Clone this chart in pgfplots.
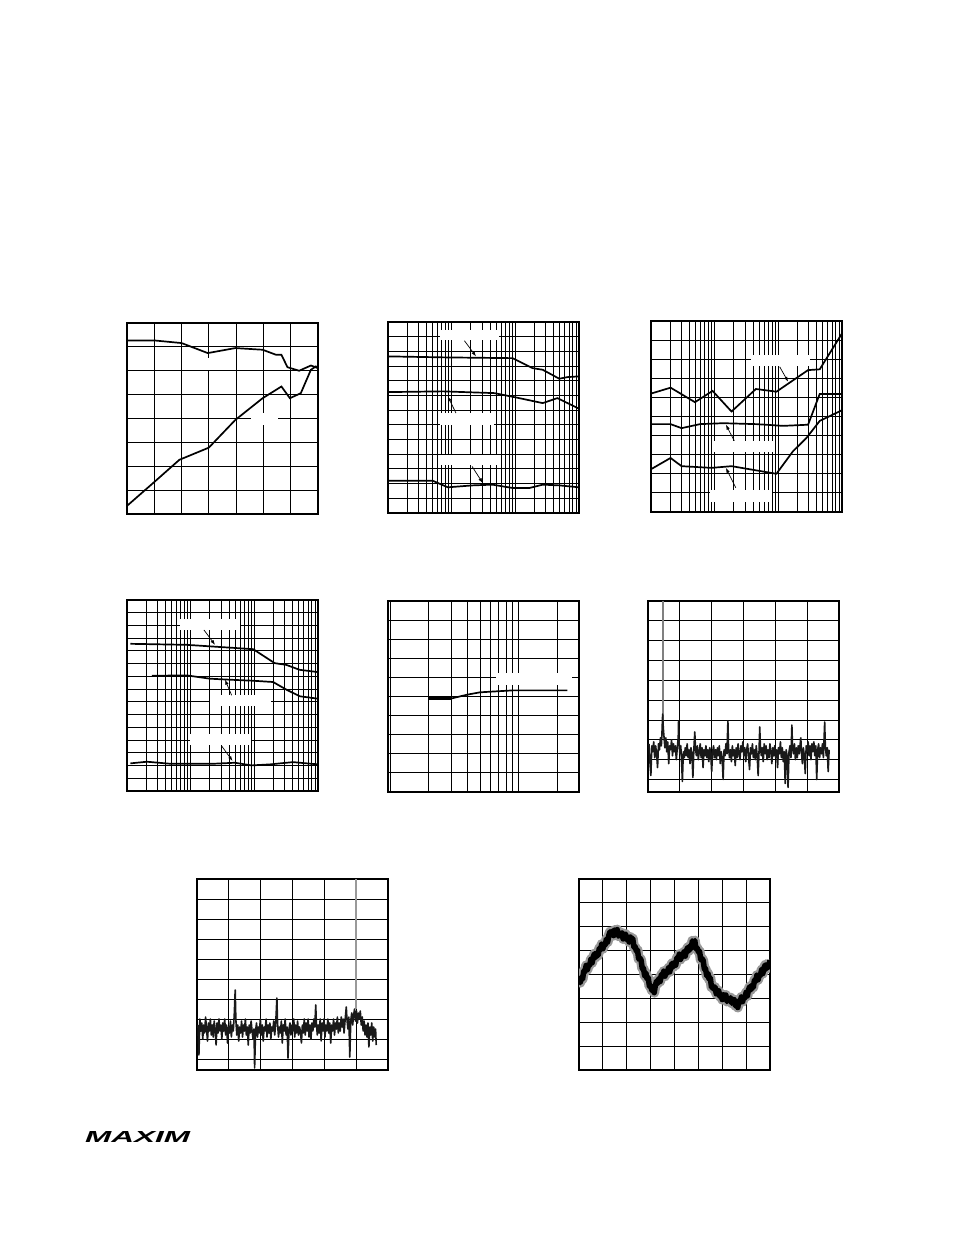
\documentclass[border=0pt]{standalone}
\usepackage{fontspec}
\setmainfont{Liberation Sans}
\usepackage{graphicx}
\usepackage{pgfplots}
\pgfplotsset{compat=1.18}
\usetikzlibrary{arrows.meta}

\pgfplotsset{
  pane/.style={scale only axis, width=191pt, height=191pt, anchor=north west,
    axis line style={line width=1.8pt},
    major grid style={black, line width=1pt},
    minor grid style={black, line width=1pt},
    major tick length=0pt, minor tick length=0pt,
    xticklabels={}, yticklabels={},
  },
  decades/.style={xmin=10, xmax=10000, xtick={10,100,1000,10000},
    minor xtick={20,30,40,50,60,70,80,90,200,300,400,500,600,700,800,900,2000,3000,4000,5000,6000,7000,8000,9000},
    grid=both},
}
\tikzset{
  thk/.style={black, line width=1.7pt, mark=none},
  noise/.style={black!90, line width=1.6pt, line join=round, mark=none},
  mask/.style={fill=white},
  lbl/.style={-{Latex[length=5pt,width=3.5pt]}, line width=0.7pt, black},
}

\begin{document}
\begin{tikzpicture}
\path[use as bounding box] (0pt,0pt) rectangle (954pt,-1235pt);

% --- row 1, left
\begin{axis}[pane, at={(127pt,-323pt)}, xmin=0, xmax=7, ymin=0, ymax=8,
  xtick={0,...,7}, ytick={0,...,8}, grid=major]
\fill[mask] (2.85,6.04) rectangle (3.15,6.53);
\fill[mask] (4.54,3.73) rectangle (5.52,4.22);
\addplot[thk] coordinates {(0,7.27) (1,7.27) (2,7.16) (2.96,6.74) (3.97,6.95) (4.97,6.88)
  (5.46,6.67) (5.66,6.67) (5.88,6.15) (6.31,6.0) (6.74,6.22) (7,6.11)};
\addplot[thk] coordinates {(0,0.34) (0.95,1.29) (1.92,2.27) (3.0,2.78) (3.97,3.94) (4.97,4.85)
  (5.66,5.34) (5.97,4.85) (6.37,5.06) (6.74,6.04) (6.92,6.18) (7,6.1)};
\end{axis}

% --- row 1, middle
\begin{axis}[pane, xmode=log, decades, at={(388pt,-322pt)}, ymin=0, ymax=13, ytick={0,...,13}]
\fill[mask] (rel axis cs:0.270,0.907) rectangle (rel axis cs:0.583,0.959);
\fill[mask] (rel axis cs:0.270,0.462) rectangle (rel axis cs:0.556,0.523);
\fill[mask] (rel axis cs:0.270,0.249) rectangle (rel axis cs:0.583,0.305);
\addplot[thk] coordinates {(10,10.66) (81.8,10.59) (903,10.54) (1862,9.86) (2692,9.75)
  (4898,9.14) (6607,9.25) (10000,9.30)};
\addplot[thk] coordinates {(10,8.23) (72.4,8.28) (468,8.16) (1148,7.82) (2692,7.48)
  (4571,7.82) (10000,7.10)};
\addplot[thk] coordinates {(10,2.20) (50.1,2.20) (87.1,1.75) (214,1.88) (437,1.93) (912,1.70)
  (1660,1.70) (2692,1.93) (4898,1.88) (10000,1.75)};
\draw[lbl] (rel axis cs:0.400,0.902) -- (rel axis cs:0.461,0.820);
\draw[lbl] (rel axis cs:0.356,0.523) -- (rel axis cs:0.313,0.611);
\draw[lbl] (rel axis cs:0.440,0.244) -- (rel axis cs:0.496,0.157);
\end{axis}

% --- row 1, right
\begin{axis}[pane, xmode=log, decades, at={(651pt,-321pt)}, ymin=0, ymax=10, ytick={0,...,10}]
\fill[mask] (rel axis cs:0.526,0.766) rectangle (rel axis cs:0.835,0.821);
\fill[mask] (rel axis cs:0.326,0.314) rectangle (rel axis cs:0.643,0.370);
\fill[mask] (rel axis cs:0.308,0.054) rectangle (rel axis cs:0.636,0.113);
\addplot[thk] coordinates {(10,6.20) (20.3,6.51) (49.0,5.75) (92.7,6.34) (184,5.26) (444,6.44)
  (933,6.30) (2931,7.43) (4467,7.47) (10000,9.35)};
\addplot[thk] coordinates {(10,4.60) (20.3,4.60) (30.2,4.39) (58.6,4.60) (136,4.65) (454,4.60)
  (1189,4.51) (2931,4.57) (4467,6.18) (10000,6.18)};
\addplot[thk] coordinates {(10,2.24) (20.3,2.83) (30.2,2.40) (89.1,2.31) (184,2.40) (933,2.00)
  (1698,3.18) (2754,3.87) (4467,4.77) (10000,5.33)};
\draw[lbl] (rel axis cs:0.674,0.760) -- (rel axis cs:0.718,0.682);
\draw[lbl] (rel axis cs:0.436,0.373) -- (rel axis cs:0.392,0.457);
\draw[lbl] (rel axis cs:0.444,0.127) -- (rel axis cs:0.392,0.231);
\end{axis}

% --- row 2, left
\begin{axis}[pane, xmode=log, decades, at={(127pt,-600pt)}, ymin=0, ymax=15, ytick={0,...,15}]
\fill[mask] (rel axis cs:0.275,0.843) rectangle (rel axis cs:0.591,0.901);
\fill[mask] (rel axis cs:0.434,0.443) rectangle (rel axis cs:0.756,0.505);
\fill[mask] (rel axis cs:0.330,0.240) rectangle (rel axis cs:0.647,0.296);
\addplot[thk] coordinates {(11.3,11.56) (86.9,11.48) (959,11.14) (2089,10.04) (3162,9.91)
  (5129,9.52) (10000,9.34)};
\addplot[thk] coordinates {(24.6,9.05) (86.9,9.08) (201,8.82) (414,8.74) (959,8.66) (1972,8.56)
  (3192,7.96) (5164,7.44) (10000,7.25)};
\addplot[thk] coordinates {(11.3,2.17) (20.6,2.30) (47.6,2.14) (227,2.14) (495,2.22) (904,2.01)
  (1750,2.09) (4055,2.27) (10000,2.09)};
\draw[lbl] (rel axis cs:0.403,0.843) -- (rel axis cs:0.461,0.765);
\draw[lbl] (rel axis cs:0.548,0.501) -- (rel axis cs:0.513,0.583);
\draw[lbl] (rel axis cs:0.496,0.235) -- (rel axis cs:0.553,0.157);
\end{axis}

% --- row 2, middle
\begin{axis}[pane, xmode=log, at={(388pt,-601pt)}, xmin=0.96, xmax=29.5, xtick={1,10},
  minor xtick={2,3,4,5,6,7,8,9,20}, grid=both, ymin=0, ymax=10, ytick={0,...,10}]
\fill[mask] (rel axis cs:0.567,0.560) rectangle (rel axis cs:0.965,0.623);
\addplot[thk, line width=3pt] coordinates {(2,4.90) (3,4.90)};
\addplot[thk] coordinates {(2,4.90) (3,4.90) (4,5.10) (5,5.22) (6.7,5.27) (9,5.32) (24,5.32)};
\end{axis}

% --- row 2, right
\begin{axis}[pane, at={(648pt,-601pt)}, xmin=0, xmax=6, ymin=-9.63, ymax=0,
  xtick={0,...,6}, ytick={-9,...,0}, grid=major]
\addplot[black!50, line width=2.6pt, mark=none] coordinates {(0.47,-6.8) (0.47,0)};
\addplot[noise] coordinates {
(0.03,-7.2) (0.06,-8.1) (0.09,-8.8) (0.12,-7.3) (0.15,-7.6) (0.18,-7.1) (0.21,-7.9) (0.24,-7.3)
(0.27,-7.7) (0.30,-8.4) (0.33,-7.2) (0.36,-7.5) (0.39,-6.9) (0.42,-7.3) (0.44,-6.6) (0.46,-5.7)
(0.48,-6.4) (0.50,-6.8) (0.53,-7.4) (0.56,-6.9) (0.59,-7.6) (0.62,-7.1) (0.65,-8.2) (0.68,-7.3)
(0.71,-7.5) (0.74,-7.0) (0.77,-7.8) (0.80,-7.2) (0.83,-7.6) (0.86,-7.3) (0.89,-8.0) (0.92,-7.4)
(0.95,-6.9) (0.96,-6.05) (0.97,-7.0) (1.00,-7.7) (1.03,-7.3) (1.06,-8.3) (1.08,-9.1) (1.11,-7.6)
(1.14,-7.9) (1.17,-7.4) (1.20,-7.8) (1.23,-7.2) (1.26,-7.9) (1.29,-7.5) (1.32,-8.2) (1.35,-7.4)
(1.38,-7.7) (1.41,-8.9) (1.44,-7.5) (1.47,-6.6) (1.49,-7.4) (1.52,-7.8) (1.55,-7.3) (1.58,-8.0)
(1.61,-7.6) (1.64,-7.2) (1.67,-7.9) (1.70,-7.4) (1.73,-8.4) (1.76,-7.5) (1.79,-7.8) (1.82,-7.3)
(1.85,-7.9) (1.88,-7.5) (1.91,-8.1) (1.94,-7.4) (1.97,-7.7) (2.00,-8.6) (2.03,-7.6) (2.06,-7.3)
(2.09,-7.9) (2.12,-7.5) (2.15,-8.0) (2.18,-7.4) (2.21,-7.8) (2.24,-7.3) (2.27,-8.2) (2.30,-7.6)
(2.33,-7.9) (2.36,-9.0) (2.39,-7.5) (2.42,-7.8) (2.45,-7.2) (2.48,-7.7) (2.51,-6.05) (2.53,-7.4)
(2.56,-7.9) (2.59,-7.5) (2.62,-8.1) (2.65,-7.3) (2.68,-7.8) (2.71,-7.5) (2.74,-8.3) (2.77,-7.4)
(2.80,-7.9) (2.83,-7.2) (2.86,-7.7) (2.89,-8.0) (2.92,-7.3) (2.95,-7.6) (2.98,-7.1) (3.01,-7.8)
(3.04,-7.4) (3.07,-8.1) (3.10,-7.5) (3.13,-7.2) (3.16,-7.9) (3.19,-8.5) (3.22,-7.4) (3.25,-7.7)
(3.28,-7.2) (3.31,-7.9) (3.34,-7.5) (3.37,-8.0) (3.40,-7.3) (3.43,-7.8) (3.46,-8.8) (3.49,-7.5)
(3.51,-6.35) (3.53,-7.3) (3.56,-7.8) (3.59,-7.4) (3.62,-8.1) (3.65,-7.2) (3.68,-7.7) (3.71,-7.3)
(3.74,-8.0) (3.77,-7.5) (3.80,-7.9) (3.83,-7.2) (3.86,-7.6) (3.89,-8.2) (3.92,-7.4) (3.95,-7.8)
(3.98,-7.3) (4.01,-7.9) (4.04,-7.5) (4.07,-8.4) (4.10,-7.4) (4.13,-7.7) (4.16,-7.1) (4.19,-7.9)
(4.22,-7.4) (4.25,-8.1) (4.28,-7.6) (4.31,-9.2) (4.34,-7.5) (4.37,-7.8) (4.40,-9.4) (4.43,-7.6)
(4.46,-7.3) (4.49,-7.9) (4.52,-6.25) (4.54,-7.4) (4.57,-7.7) (4.60,-7.2) (4.63,-8.0) (4.66,-7.4)
(4.69,-7.9) (4.72,-7.3) (4.75,-7.7) (4.78,-7.2) (4.80,-6.9) (4.82,-7.6) (4.85,-8.2) (4.88,-7.4)
(4.91,-7.8) (4.94,-8.7) (4.97,-7.3) (5.00,-7.6) (5.03,-7.1) (5.06,-7.8) (5.09,-7.3) (5.12,-8.0)
(5.15,-7.2) (5.18,-7.6) (5.21,-7.1) (5.24,-7.8) (5.27,-7.3) (5.30,-9.0) (5.33,-7.5) (5.36,-7.2)
(5.39,-7.9) (5.42,-7.4) (5.45,-7.7) (5.48,-7.2) (5.51,-7.9) (5.55,-6.1) (5.57,-7.3) (5.60,-7.8)
(5.63,-7.4) (5.66,-8.6) (5.69,-7.5)};
\end{axis}

% --- row 3, left
\begin{axis}[pane, at={(197pt,-879pt)}, xmin=0, xmax=6, ymin=-9.55, ymax=0,
  xtick={0,...,6}, ytick={-9,...,0}, grid=major]
\addplot[black!40, line width=2pt, mark=none] coordinates {(5.0,-6.5) (5.0,0)};
\addplot[noise] coordinates {
(0.03,-7.3) (0.06,-8.8) (0.09,-7.0) (0.12,-7.6) (0.15,-7.2) (0.18,-8.0) (0.21,-7.3) (0.24,-7.7)
(0.27,-6.9) (0.30,-7.5) (0.33,-8.1) (0.36,-7.2) (0.39,-7.6) (0.42,-7.0) (0.45,-7.8) (0.48,-7.3)
(0.51,-7.9) (0.54,-7.1) (0.57,-7.5) (0.60,-8.3) (0.63,-7.2) (0.66,-7.7) (0.69,-7.0) (0.72,-7.6)
(0.75,-7.3) (0.78,-8.0) (0.81,-7.2) (0.84,-7.6) (0.87,-7.0) (0.90,-7.8) (0.93,-7.3) (0.96,-8.2)
(0.99,-7.4) (1.02,-7.7) (1.05,-7.1) (1.08,-7.9) (1.11,-7.3) (1.14,-7.6) (1.17,-6.8) (1.20,-5.55)
(1.22,-7.0) (1.25,-7.8) (1.28,-7.3) (1.31,-8.1) (1.34,-7.4) (1.37,-7.7) (1.40,-7.1) (1.43,-7.9)
(1.46,-7.3) (1.49,-7.6) (1.52,-7.0) (1.55,-7.8) (1.58,-7.4) (1.61,-8.3) (1.64,-7.3) (1.67,-7.7)
(1.70,-7.1) (1.73,-7.6) (1.76,-8.0) (1.79,-7.5) (1.81,-9.45) (1.84,-7.6) (1.87,-7.2) (1.90,-7.9)
(1.93,-7.4) (1.96,-7.7) (1.99,-7.0) (2.02,-7.8) (2.05,-7.3) (2.08,-8.1) (2.11,-7.4) (2.14,-7.6)
(2.17,-7.0) (2.20,-7.9) (2.23,-7.3) (2.26,-7.7) (2.29,-7.2) (2.32,-8.0) (2.35,-7.4) (2.38,-7.6)
(2.41,-7.1) (2.44,-7.8) (2.47,-7.3) (2.51,-5.95) (2.53,-7.2) (2.56,-7.9) (2.59,-7.4) (2.62,-7.7)
(2.65,-7.1) (2.68,-8.2) (2.71,-7.3) (2.74,-7.6) (2.77,-7.0) (2.80,-7.8) (2.83,-7.4) (2.86,-8.95)
(2.89,-7.5) (2.92,-7.2) (2.95,-7.8) (2.98,-7.3) (3.01,-7.6) (3.04,-7.0) (3.07,-7.9) (3.10,-7.3)
(3.13,-7.7) (3.16,-7.1) (3.19,-7.8) (3.22,-7.4) (3.25,-7.6) (3.28,-8.2) (3.31,-7.3) (3.34,-7.7)
(3.37,-7.0) (3.40,-7.8) (3.43,-7.2) (3.46,-7.6) (3.49,-7.0) (3.52,-7.9) (3.55,-7.3) (3.58,-8.0)
(3.61,-7.2) (3.64,-7.6) (3.67,-7.0) (3.70,-7.4) (3.73,-6.3) (3.75,-7.2) (3.78,-7.8) (3.81,-7.3)
(3.84,-7.7) (3.87,-7.0) (3.90,-8.1) (3.93,-7.2) (3.96,-7.6) (3.99,-7.0) (4.02,-7.9) (4.05,-7.3)
(4.08,-7.6) (4.11,-7.0) (4.14,-7.7) (4.17,-7.2) (4.20,-8.2) (4.23,-7.3) (4.26,-7.6) (4.29,-7.0)
(4.32,-7.8) (4.35,-7.2) (4.38,-7.5) (4.41,-6.9) (4.44,-7.7) (4.47,-7.2) (4.50,-7.6) (4.53,-6.9)
(4.56,-7.4) (4.59,-7.0) (4.62,-7.7) (4.65,-7.1) (4.69,-6.4) (4.71,-7.0) (4.74,-7.5) (4.77,-6.9)
(4.80,-8.9) (4.83,-7.1) (4.86,-6.7) (4.89,-7.3) (4.92,-6.8) (4.95,-6.5) (4.98,-7.1) (5.01,-6.6)
(5.04,-7.2) (5.07,-6.7) (5.10,-7.0) (5.13,-6.6) (5.16,-7.3) (5.19,-6.9) (5.22,-7.6) (5.25,-7.1)
(5.28,-7.8) (5.31,-7.3) (5.34,-7.9) (5.37,-7.2) (5.40,-8.4) (5.43,-7.4) (5.46,-7.8) (5.49,-7.2)
(5.52,-8.1) (5.55,-7.4) (5.58,-7.9) (5.61,-7.5) (5.63,-8.3)};
\end{axis}

% --- row 3, right
\pgfplotstableread{
x y
0.00 3.77
0.05 3.66
0.10 3.89
0.15 3.81
0.20 4.15
0.25 4.12
0.30 4.38
0.35 4.20
0.40 4.40
0.45 4.40
0.50 4.64
0.55 4.49
0.60 4.75
0.65 4.87
0.70 4.72
0.75 4.91
0.80 4.80
0.85 5.10
0.90 5.03
0.95 5.27
1.00 5.08
1.05 5.26
1.10 5.25
1.15 5.49
1.20 5.36
1.25 5.64
1.30 5.79
1.35 5.66
1.40 5.82
1.45 5.63
1.50 5.86
1.55 5.71
1.60 5.88
1.65 5.61
1.70 5.71
1.75 5.60
1.80 5.74
1.85 5.49
1.90 5.66
1.95 5.69
2.00 5.46
2.05 5.56
2.10 5.36
2.15 5.57
2.20 5.42
2.25 5.51
2.30 5.15
2.35 5.17
2.40 4.99
2.45 5.02
2.50 4.65
2.55 4.69
2.60 4.60
2.65 4.25
2.70 4.26
2.75 3.95
2.80 4.07
2.85 3.82
2.90 3.87
2.95 3.51
3.00 3.52
3.05 3.34
3.10 3.39
3.15 3.24
3.20 3.55
3.25 3.73
3.30 3.63
3.35 3.84
3.40 3.71
3.45 4.00
3.50 3.91
3.55 4.14
3.60 3.93
3.65 4.10
3.70 4.07
3.75 4.28
3.80 4.11
3.85 4.35
3.90 4.47
3.95 4.32
4.00 4.51
4.05 4.39
4.10 4.70
4.15 4.63
4.20 4.85
4.25 4.63
4.30 4.79
4.35 4.75
4.40 4.95
4.45 4.77
4.50 5.00
4.55 5.13
4.60 4.99
4.65 5.20
4.70 5.09
4.75 5.41
4.80 5.32
4.85 5.42
4.90 5.08
4.95 5.11
5.00 4.95
5.05 4.97
5.10 4.62
5.15 4.67
5.20 4.59
5.25 4.24
5.30 4.24
5.35 3.94
5.40 4.05
5.45 3.80
5.50 3.86
5.55 3.47
5.60 3.52
5.65 3.38
5.70 3.47
5.75 3.19
5.80 3.32
5.85 3.32
5.90 3.08
5.95 3.17
6.00 2.95
6.05 3.15
6.10 2.99
6.15 3.14
6.20 2.87
6.25 2.98
6.30 2.89
6.35 3.03
6.40 2.80
6.45 2.94
6.50 2.95
6.55 2.69
6.60 2.77
6.65 2.62
6.70 2.91
6.75 2.83
6.80 3.06
6.85 2.86
6.90 3.04
6.95 3.03
7.00 3.25
7.05 3.10
7.10 3.36
7.15 3.49
7.20 3.36
7.25 3.56
7.30 3.46
7.35 3.77
7.40 3.71
7.45 3.97
7.50 3.78
7.55 3.97
7.60 3.97
7.65 4.20
7.70 4.04
7.75 4.28
7.80 4.40
7.85 4.24
7.90 4.43
7.95 4.31
8.00 4.60
}\wavetable
\begin{axis}[pane, at={(579pt,-879pt)}, xmin=0, xmax=8, ymin=0, ymax=8,
  xtick={0,...,8}, ytick={0,...,8}, grid=major]
\addplot[black!40, line width=10pt, line join=round, mark=none] table[x=x, y=y] {\wavetable};
\addplot[black, line width=5.5pt, line join=round, mark=none] table[x=x, y=y] {\wavetable};
\end{axis}

\node[anchor=west, inner sep=0pt] at (85pt,-1137pt) {\resizebox{105pt}{11pt}{\bfseries\itshape MAXIM}};
\end{tikzpicture}
\end{document}
